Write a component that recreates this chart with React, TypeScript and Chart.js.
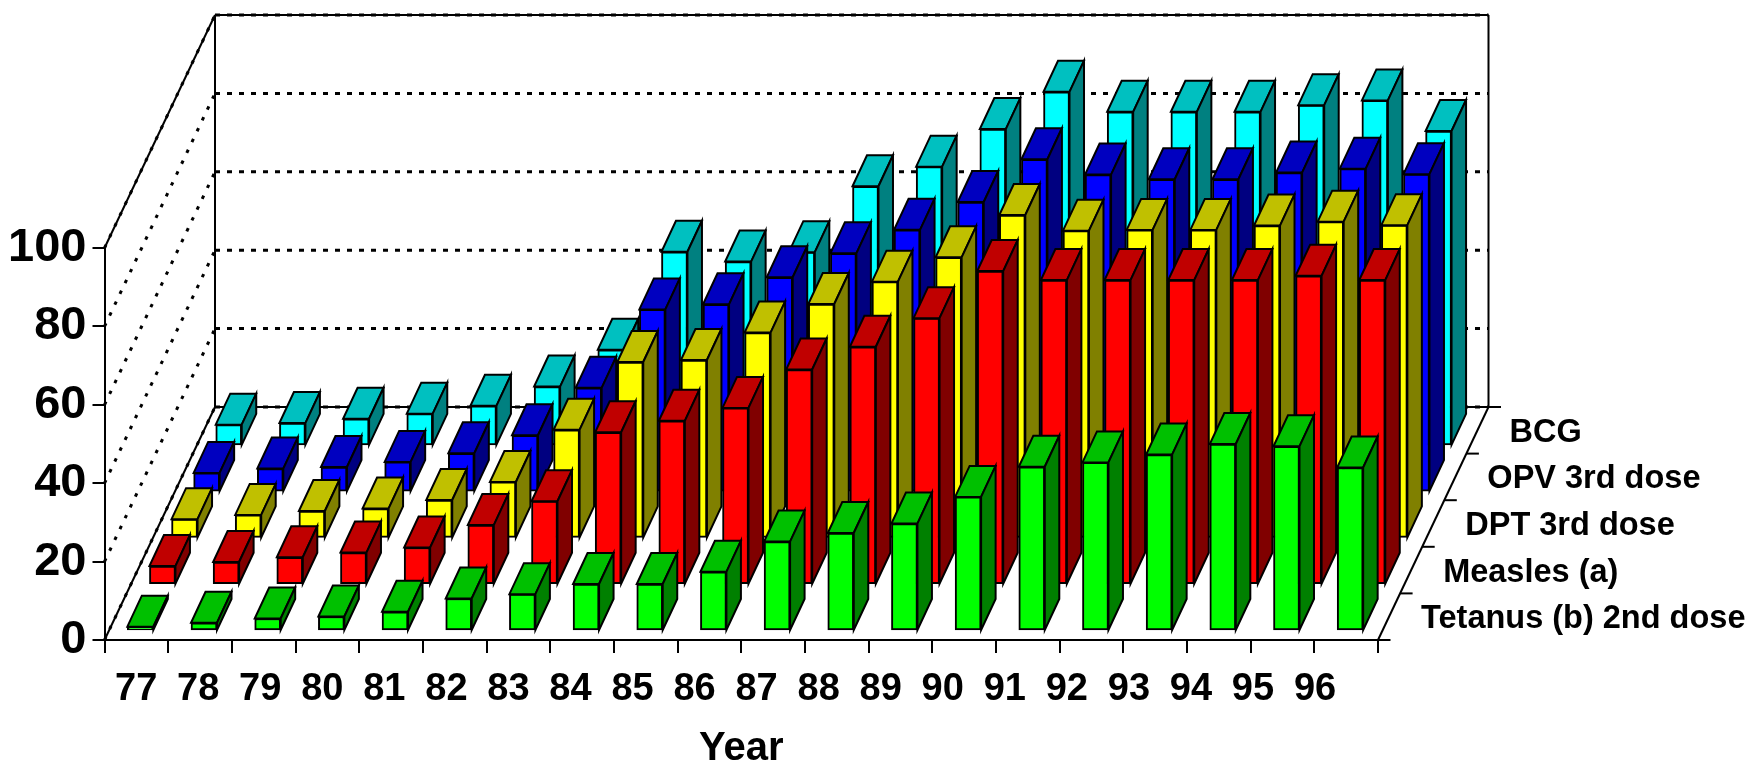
import React, { useEffect, useRef } from "react";
import { Chart, registerables } from "chart.js";

Chart.register(...registerables);

const years = ["77","78","79","80","81","82","83","84","85","86","87","88","89","90","91","92","93","94","95","96"];
const yearTicks = [77,78,79,80,81,82,83,84,85,86,87,88,89,90,91,92,93,94,95,96];
const seriesNames = ["Tetanus (b) 2nd dose","Measles (a)","DPT 3rd dose","OPV 3rd dose","BCG"];

const tetanus = [1.1,2.1,3.2,3.7,4.9,8.3,9.4,12,12,15.1,22.8,25,27.4,34.2,41.9,43,45,47.7,47.1,41.7];
const measles = [4.75,5.8,7,8.2,9.5,15.2,21.3,38.9,41.8,45.1,54.9,60.7,68,80,77.7,77.7,77.7,77.7,78.8,77.7];
const dpt = [4.9,6,7,7.6,9.8,14.4,27.7,45,45.5,52.5,59.8,65.5,71.7,82.5,78.5,78.7,78.7,79.8,80.8,79.9];
const opv = [4.9,6,6.4,7.7,9.9,14.5,26.6,46.6,47.9,54.8,60.9,66.9,74,84.9,81,79.8,79.8,81.5,82.5,81.1];
const bcg = [5.4,5.8,6.9,8.2,10.2,15.1,24.5,49.5,47,49.4,66.2,71.2,80.8,90.3,85.2,85.2,85.2,86.9,88.1,80.3];

const seriesValues = [tetanus, measles, dpt, opv, bcg];
const frontColors = ["#00FF00","#FF0000","#FFFF00","#0000FF","#00FFFF"];
const topColors = ["#00C000","#C00000","#C0C000","#0000C0","#00C0C0"];
const sideColors = ["#008000","#800000","#808000","#000080","#008080"];

const FONT = "'Liberation Sans', Arial, sans-serif";
const DEPTH_X = 110.5;
const DEPTH_Y = 233;
const SERIES_X = DEPTH_X / 5;
const SERIES_Y = DEPTH_Y / 5;
const BAR_DX = 14.5;
const BAR_DY = 31;
const BAR_SHIFT_X = 4;
const BAR_SHIFT_Y = 9;
const BAR_STEP_Y = 46.3;

const line = (ctx: CanvasRenderingContext2D, x1: number, y1: number, x2: number, y2: number) => {
  ctx.beginPath();
  ctx.moveTo(x1, y1);
  ctx.lineTo(x2, y2);
  ctx.stroke();
};

const poly = (ctx: CanvasRenderingContext2D, pts: number[][], fill: string) => {
  ctx.beginPath();
  pts.forEach((p, i) => (i ? ctx.lineTo(p[0], p[1]) : ctx.moveTo(p[0], p[1])));
  ctx.closePath();
  ctx.fillStyle = fill;
  ctx.fill();
  ctx.stroke();
};

const box3d = {
  id: "box3d",
  beforeDatasetsDraw(chart: any) {
    const { ctx, chartArea: a, scales } = chart;
    const y = scales.y;
    const x0 = a.left;
    const x1 = a.right;
    const y0 = y.getPixelForValue(0);
    const yTop = y.getPixelForValue(100);
    ctx.save();
    ctx.strokeStyle = "#000";
    ctx.lineWidth = 2;
    line(ctx, x0 + DEPTH_X, y0 - DEPTH_Y, x1 + DEPTH_X, y0 - DEPTH_Y);
    line(ctx, x0 + DEPTH_X, yTop - DEPTH_Y, x1 + DEPTH_X, yTop - DEPTH_Y);
    line(ctx, x0 + DEPTH_X, y0 - DEPTH_Y, x0 + DEPTH_X, yTop - DEPTH_Y);
    line(ctx, x1 + DEPTH_X, y0 - DEPTH_Y, x1 + DEPTH_X, yTop - DEPTH_Y);
    line(ctx, x0, y0, x0 + DEPTH_X, y0 - DEPTH_Y);
    line(ctx, x1, y0, x1 + DEPTH_X, y0 - DEPTH_Y);
    line(ctx, x0, yTop, x0 + DEPTH_X, yTop - DEPTH_Y);
    for (let s = 0; s <= 5; s++) {
      const px = x1 + SERIES_X * s;
      const py = y0 - SERIES_Y * s;
      line(ctx, px, py, px + 12.5, py);
    }
    ctx.lineWidth = 3;
    y.ticks.forEach((t: any) => {
      const py = y.getPixelForValue(t.value);
      ctx.setLineDash([5, 7]);
      line(ctx, x0 + DEPTH_X, py - DEPTH_Y, x1 + DEPTH_X, py - DEPTH_Y);
      ctx.setLineDash([3.5, 8.5]);
      line(ctx, x0, py, x0 + DEPTH_X, py - DEPTH_Y);
    });
    ctx.setLineDash([]);
    ctx.fillStyle = "#000";
    ctx.font = `bold 32.5px ${FONT}`;
    ctx.textAlign = "left";
    ctx.textBaseline = "middle";
    seriesNames.forEach((name, s) => {
      ctx.fillText(name, x1 + SERIES_X * (s + 0.5) + 32, y0 - SERIES_Y * (s + 0.5) + 2.5);
    });
    ctx.restore();
  },
  beforeDatasetDraw(chart: any, args: any) {
    const s = args.index;
    chart.ctx.save();
    chart.ctx.translate(BAR_SHIFT_X + SERIES_X * s, -(BAR_SHIFT_Y + BAR_STEP_Y * s));
  },
  afterDatasetDraw(chart: any, args: any) {
    const { ctx } = chart;
    const s = args.index;
    ctx.strokeStyle = "#000";
    ctx.lineWidth = 2;
    ctx.lineJoin = "miter";
    args.meta.data.forEach((el: any) => {
      const { x, y, base, width } = el.getProps(["x", "y", "base", "width"], true);
      const l = x - width / 2;
      const r = x + width / 2;
      poly(ctx, [[l, y], [r, y], [r + BAR_DX, y - BAR_DY], [l + BAR_DX, y - BAR_DY]], topColors[s]);
      poly(ctx, [[r, y], [r + BAR_DX, y - BAR_DY], [r + BAR_DX, base - BAR_DY], [r, base]], sideColors[s]);
    });
    ctx.restore();
  },
};

export default function App() {
  const ref = useRef<HTMLCanvasElement>(null);
  useEffect(() => {
    const chart = new Chart(ref.current as HTMLCanvasElement, {
      type: "bar",
      data: {
        labels: years,
        datasets: seriesValues.map((values, s) => ({
          label: seriesNames[s],
          data: values,
          backgroundColor: frontColors[s],
          borderColor: "#000",
          borderWidth: 2,
          borderSkipped: false,
          barThickness: 26,
          grouped: false,
          clip: false,
          xAxisID: "x",
          yAxisID: "y",
        })),
      } as any,
      plugins: [box3d as any],
      options: {
        responsive: false,
        animation: false,
        layout: { padding: { left: 0, right: 372, top: 248, bottom: 0 } },
        plugins: { legend: { display: false }, tooltip: { enabled: false } },
        scales: {
          y: {
            type: "linear",
            min: 0,
            max: 100,
            afterFit: (s: any) => { s.width = 104.5; },
            border: { display: true, color: "#000", width: 2 },
            grid: { drawOnChartArea: false, drawTicks: true, tickLength: 12, color: "#000", lineWidth: 2 },
            ticks: {
              stepSize: 20,
              color: "#000",
              padding: 6,
              font: { family: FONT, size: 47, weight: "bold" },
            },
          },
          x: {
            type: "category",
            weight: 0,
            afterFit: (s: any) => { s.height = 0; },
            offset: true,
            border: { display: true, color: "#000", width: 2 },
            grid: { offset: true, drawOnChartArea: false, drawTicks: true, tickLength: 13, color: "#000", lineWidth: 2 },
            ticks: { display: false },
          },
          x2: {
            type: "linear",
            position: "bottom",
            weight: 1,
            offset: false,
            min: 76.49,
            max: 97.015,
            afterFit: (s: any) => { s.height = 127; },
            afterBuildTicks: (s: any) => { s.ticks = yearTicks.map((value) => ({ value })); },
            border: { display: false },
            grid: { display: false, drawTicks: false },
            ticks: {
              autoSkip: false,
              maxRotation: 0,
              padding: 27,
              color: "#000",
              callback: (v: any) => String(v),
              font: { family: FONT, size: 38, weight: "bold" },
            },
            title: {
              display: true,
              text: "Year",
              color: "#000",
              padding: { top: 0, bottom: -6 },
              font: { family: FONT, size: 40, weight: "bold" },
            },
          },
        },
      } as any,
    });
    return () => chart.destroy();
  }, []);
  return (
    <div style={{ position: "absolute", left: 0, top: 0, width: 1750, height: 767, background: "#fff" }}>
      <canvas ref={ref} width={1750} height={767} style={{ display: "block" }} />
    </div>
  );
}
